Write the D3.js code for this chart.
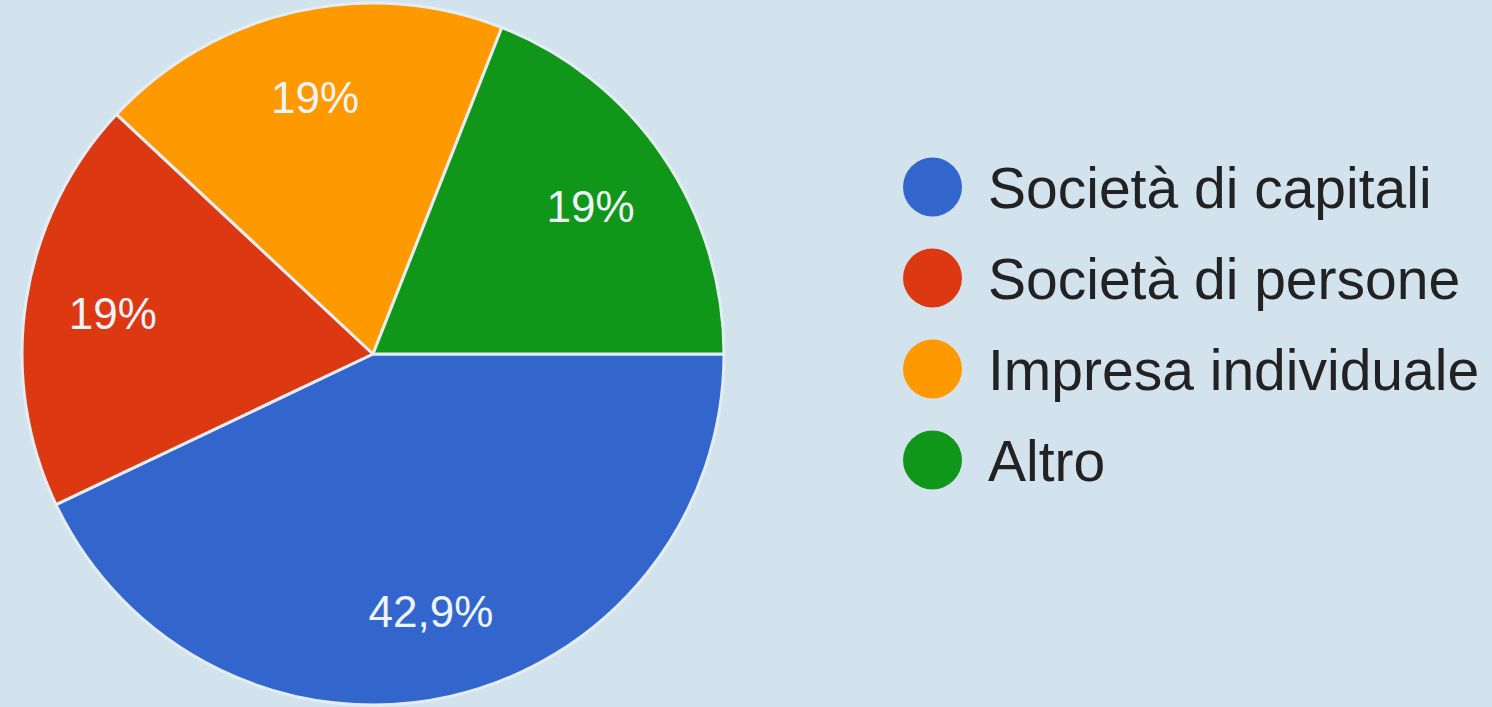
<!DOCTYPE html>
<html><head><meta charset="utf-8">
<script src="https://cdn.jsdelivr.net/npm/d3@7"></script>
<style>html,body{margin:0;padding:0;background:#d3e3ee;}svg{display:block;}</style>
</head><body>
<svg id="c" width="1492" height="707"></svg>
<script>
const categories = ["Società di capitali", "Società di persone", "Impresa individuale", "Altro"];
const values = [42.9, 19.0, 19.0, 19.0];
const valueLabels = ["42,9%", "19%", "19%", "19%"];
const colors = ["#3366cc", "#dc3912", "#ff9900", "#109618"];

const svg = d3.select("#c");
svg.append("rect").attr("width",1492).attr("height",707).attr("fill","#d3e3ee");
const cx = 373, cy = 354, R = 351;
const pie = d3.pie().sort(null).value(d=>d).startAngle(Math.PI/2).endAngle(Math.PI/2 + 2*Math.PI);
const arcs = pie(values);
const arc = d3.arc().innerRadius(0).outerRadius(R);
const g = svg.append("g").attr("transform",`translate(${cx},${cy})`);
g.selectAll("path").data(arcs).join("path")
  .attr("d",arc).attr("fill",(d,i)=>colors[i])
  .attr("stroke","#e4edf3").attr("stroke-width",3).attr("stroke-linejoin","round");
const labelArc = d3.arc().innerRadius(R*0.75).outerRadius(R*0.75);
g.selectAll("text").data(arcs).join("text")
  .attr("transform",d=>`translate(${labelArc.centroid(d)})`)
  .attr("text-anchor","middle").attr("dy","0.36em")
  .attr("font-family","Liberation Sans, Arial, sans-serif").attr("font-size",44)
  .attr("fill","#eef3f8").text((d,i)=>valueLabels[i]);

const leg = svg.append("g");
const ly = d3.scalePoint().domain(categories).range([187,460]);
categories.forEach((c,i)=>{
  leg.append("circle").attr("cx",932.5).attr("cy",ly(c)).attr("r",29.5).attr("fill",colors[i]);
  leg.append("text").attr("x",988).attr("y",ly(c)).attr("dy","0.36em")
    .attr("font-family","Liberation Sans, Arial, sans-serif").attr("font-size",57)
    .attr("fill","#222").text(c);
});
</script>
</body></html>
